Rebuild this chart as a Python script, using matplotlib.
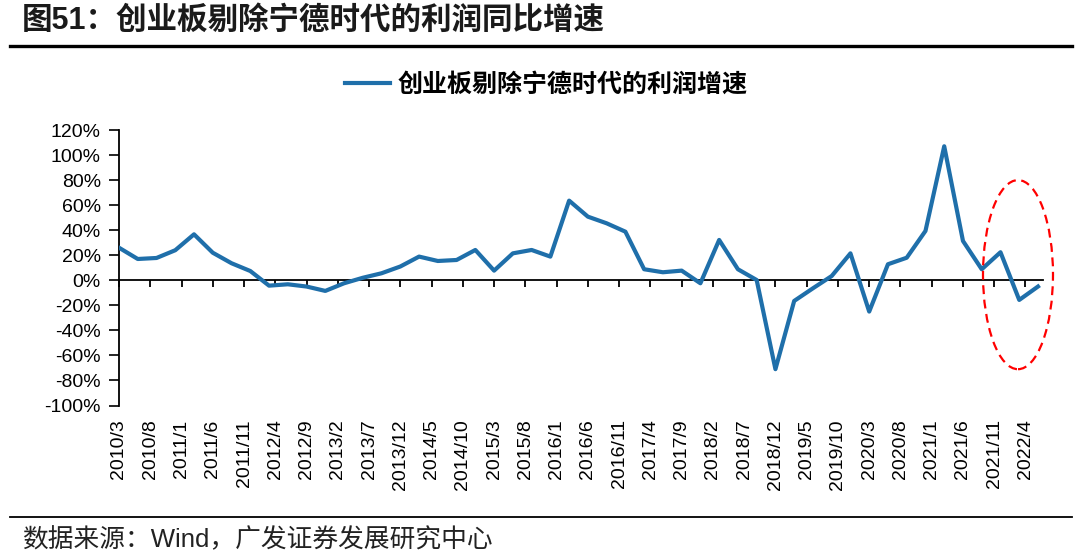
import matplotlib
matplotlib.use("Agg")
import matplotlib.pyplot as plt
from matplotlib.patches import Ellipse
from matplotlib.lines import Line2D

plt.rcParams['font.family'] = ['Liberation Sans', 'Noto Sans CJK SC', 'DejaVu Sans']

# ---- data (quarterly, 2010/3 .. 2022/6) ----
start_year, start_month = 2010, 3
growth = [26, 17, 17.8, 24, 36.7, 22, 13.6, 7.4, -4.3, -3.2,
          -5, -8.5, -2.4, 2, 5.6, 11, 18.9, 15.4, 16.2, 24.2,
          7.7, 21.5, 24.2, 18.9, 63.6, 50.8, 45.5, 38.8, 8.8, 6.4,
          7.7, -2.4, 32.2, 8.8, 0.2, -71, -16.5, -6.4, 3.4, 21.5,
          -25, 12.8, 18, 39.4, 107, 31.4, 8.8, 22.4, -15.7, -5]
months = [3 * i for i in range(len(growth))]  # months since 2010/3

tick_months = list(range(0, 146, 5))
tick_labels = []
for m in tick_months:
    tot = start_month - 1 + m
    tick_labels.append(f"{start_year + tot // 12}/{tot % 12 + 1}")

yticks = list(range(-100, 121, 20))
series_name = "创业板剔除宁德时代的利润增速"
title = "图51：创业板剔除宁德时代的利润同比增速"
source = "数据来源：Wind，广发证券发展研究中心"

# ---- figure ----
fig = plt.figure(figsize=(10.8, 5.56), dpi=100)
ax = fig.add_axes([119 / 1080, 1 - 405.5 / 556, (1043 - 119) / 1080, (405.5 - 130) / 556])

line, = ax.plot(months, growth, color='#1F6FAA', lw=3.0, solid_joinstyle='round',
                label=series_name, zorder=3)

ax.set_xlim(0, 147.8)
ax.set_ylim(-100, 120)
ax.set_yticks(yticks)
ax.set_yticklabels([f"{v}%" for v in yticks], fontsize=14)
ax.tick_params(axis='y', direction='out', length=7, width=1.2, pad=6)

for s in ['top', 'right']:
    ax.spines[s].set_visible(False)
ax.spines['left'].set_linewidth(1.3)
ax.spines['bottom'].set_position(('data', 0))
ax.spines['bottom'].set_linewidth(1.3)
ax.set_xticks(tick_months)
ax.set_xticklabels([])
ax.tick_params(axis='x', direction='out', length=5, width=1.3)

trans = ax.get_xaxis_transform()
for m, lab in zip(tick_months, tick_labels):
    ax.text(m, -0.05, lab, rotation=90, ha='center', va='top', fontsize=14,
            transform=trans)

# highlight ellipse
ell = Ellipse((143.8, 4.5), 11.2, 151, fill=False, edgecolor='#FF0000', lw=1.6,
              linestyle=(0, (4, 2.5)), clip_on=False, zorder=4)
ax.add_patch(ell)

# legend
fig.legend(handles=[line], loc='center', bbox_to_anchor=(546 / 1080, 1 - 85 / 556),
           frameon=False, handlelength=1.8, handletextpad=0.3,
           prop={'family': ['Noto Sans CJK SC'], 'weight': 'bold', 'size': 18})

# title and frame lines
fig.text(22 / 1080, 1 - 21 / 556, title, fontsize=22, weight='bold', va='center', ha='left',
         color='#1a1a1a')
fig.add_artist(Line2D([10 / 1080, 1072 / 1080], [1 - 46 / 556] * 2, color='black', lw=2.4))
fig.add_artist(Line2D([10 / 1080, 1072 / 1080], [1 - 517 / 556] * 2, color='black', lw=1.3))
fig.text(22 / 1080, 1 - 540 / 556, source, fontsize=18.5, va='center', ha='left',
         color='#222222')

fig.savefig("out.png", dpi=100)
